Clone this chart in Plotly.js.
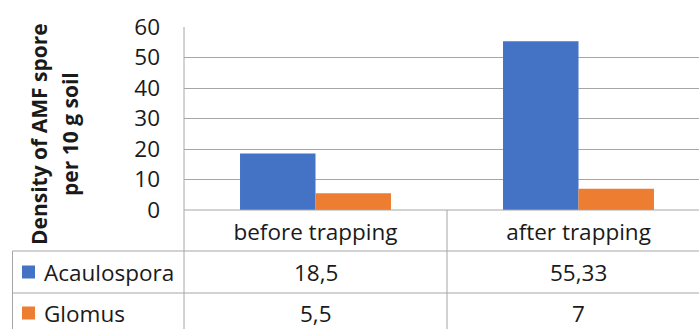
<!DOCTYPE html>
<html>
<head>
<meta charset="utf-8">
<script src="https://cdn.plot.ly/plotly-3.0.1.min.js"></script>
<style>
html,body{margin:0;padding:0;background:#fff;overflow:hidden;}
#chart{width:699px;height:329px;}
</style>
</head>
<body>
<div id="chart"></div>
<script>
const categories = ['before trapping', 'after trapping'];
const seriesNames = ['Acaulospora', 'Glomus'];
const acaulospora = [18.5, 55.33];
const glomus = [5.5, 7];
const yTicks = [0, 10, 20, 30, 40, 50, 60];
const yTitleLines = ['Density of AMF spore', 'per 10 g soil'];

const colors = ['#4472C4', '#ED7D31'];
const lineColor = '#a6a6a6';
const textColor = '#1a1a1a';
const font = 'Open Sans, Noto Sans, sans-serif';
const fs = 22.5;

const W = 699, H = 329;
const L = 184, T = 27, B = 210;
const plotW = W - L, plotH = B - T;
const px = x => (x - L) / plotW;
const py = y => (B - y) / plotH;

const series = [acaulospora, glomus];
const traces = series.map((vals, i) => ({
  type: 'bar',
  name: seriesNames[i],
  x: categories,
  y: vals,
  marker: {color: colors[i]},
  hoverinfo: 'x+y+name'
}));

const fmt = v => String(v).replace('.', ',');

const rowY = [272, 313];
const annotations = [];
series.forEach((vals, i) => {
  annotations.push({
    xref: 'paper', yref: 'paper', x: px(42), y: py(rowY[i]),
    xanchor: 'left', yanchor: 'middle', showarrow: false,
    text: seriesNames[i], font: {family: font, size: fs, color: textColor}
  });
  vals.forEach((v, j) => {
    annotations.push({
      xref: 'x', yref: 'paper', x: j, y: py(rowY[i]),
      xanchor: 'center', yanchor: 'middle', showarrow: false,
      text: fmt(v), font: {family: font, size: fs, color: textColor}
    });
  });
});
const titleX = [39, 70];
yTitleLines.forEach((t, i) => {
  annotations.push({
    xref: 'paper', yref: 'paper', x: px(titleX[i]), y: py(134),
    xanchor: 'center', yanchor: 'middle', showarrow: false, textangle: -90,
    text: '<b>' + t + '</b>', font: {family: font, size: 21, color: textColor}
  });
});

const ln = {color: lineColor, width: 1};
const shapes = [
  {type: 'line', xref: 'paper', yref: 'paper', x0: px(12.5), x1: 1.05, y0: py(251), y1: py(251), line: ln},
  {type: 'line', xref: 'paper', yref: 'paper', x0: px(12.5), x1: 1.05, y0: py(293), y1: py(293), line: ln},
  {type: 'line', xref: 'paper', yref: 'paper', x0: px(12.5), x1: px(12.5), y0: py(251), y1: py(340), line: ln},
  {type: 'line', xref: 'paper', yref: 'paper', x0: 0, x1: 0, y0: 1, y1: py(340), line: ln},
  {type: 'line', xref: 'x', yref: 'paper', x0: 0.5, x1: 0.5, y0: 0, y1: py(340), line: ln},
  {type: 'line', xref: 'paper', yref: 'paper', x0: 0, x1: 1.05, y0: 0, y1: 0, line: ln}
];
series.forEach((vals, i) => {
  const yc = rowY[i];
  shapes.push({type: 'rect', xref: 'paper', yref: 'paper',
    x0: px(22), x1: px(35), y0: py(yc - 6.5), y1: py(yc + 6.5),
    fillcolor: colors[i], line: {width: 0}});
});

const layout = {
  width: W, height: H,
  margin: {l: L, r: 0, t: T, b: H - B, pad: 0},
  paper_bgcolor: '#fff', plot_bgcolor: '#fff',
  barmode: 'group', bargap: 0.426, bargroupgap: 0,
  showlegend: false,
  font: {family: font, color: textColor},
  xaxis: {
    type: 'category',
    range: [-0.5, 1.5 - 11 / 263],
    showgrid: false, zeroline: false, showline: false,
    ticks: '', tickfont: {family: font, size: fs, color: textColor},
    ticklabelstandoff: 6,
    fixedrange: true
  },
  yaxis: {
    range: [0, 60], tickvals: yTicks, ticktext: yTicks.map(String),
    showgrid: true, gridcolor: lineColor, gridwidth: 1,
    zeroline: false, showline: false,
    ticks: '', tickfont: {family: font, size: fs, color: textColor},
    ticklabelstandoff: 23,
    automargin: false,
    fixedrange: true
  },
  shapes: shapes,
  annotations: annotations
};

Plotly.newPlot('chart', traces, layout, {displayModeBar: false, staticPlot: true});
</script>
</body>
</html>
